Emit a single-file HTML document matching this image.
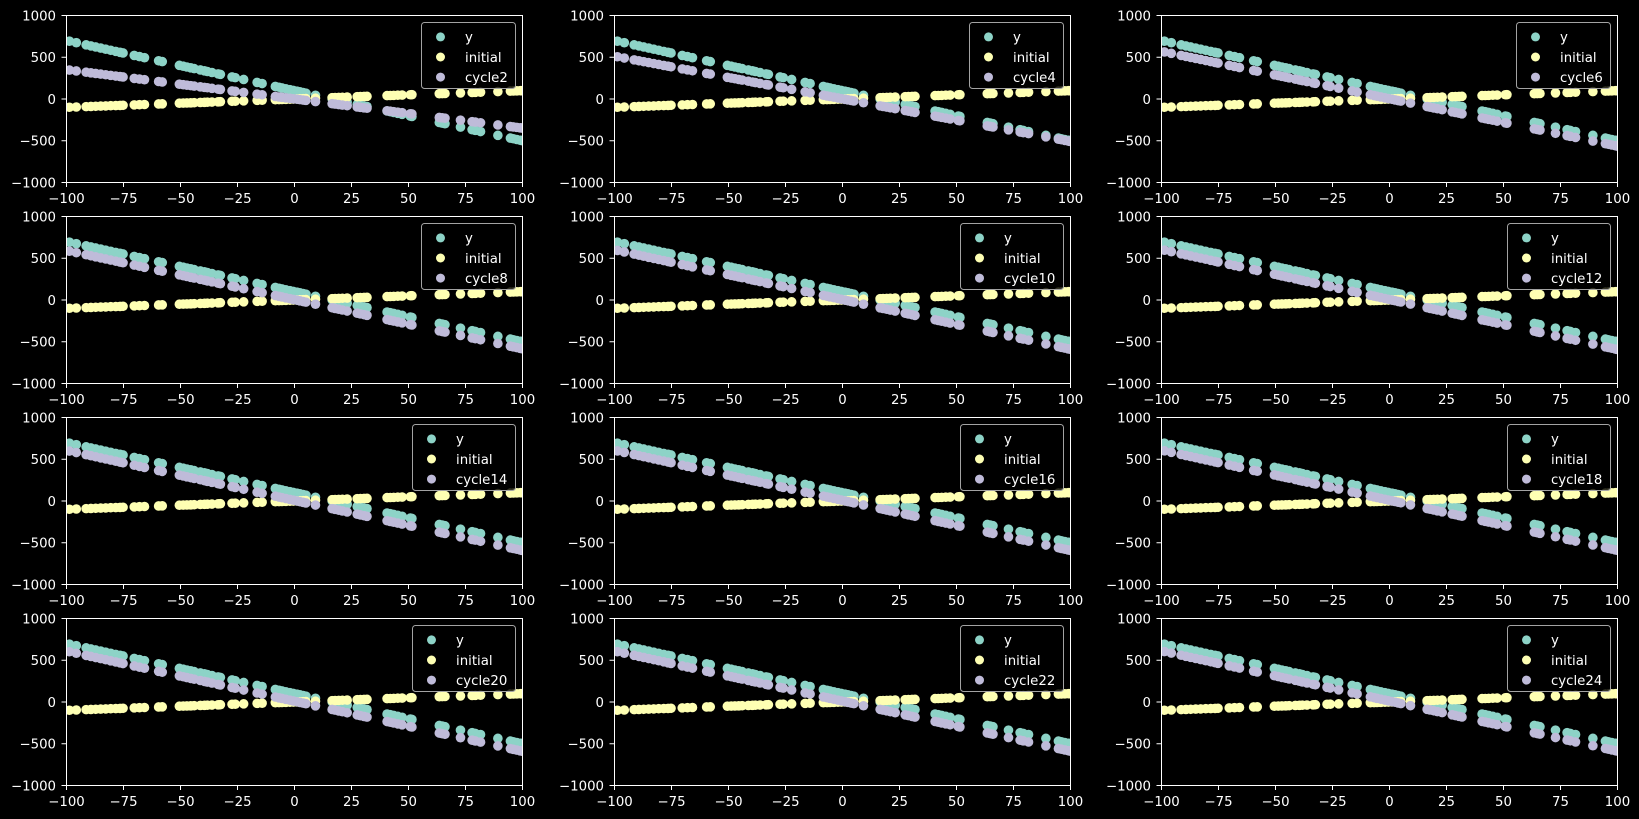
<!DOCTYPE html>
<html><head><meta charset="utf-8">
<style>
html,body{margin:0;padding:0;background:#000;}
svg{display:block;}
text{font-family:"DejaVu Sans","Liberation Sans",sans-serif;font-size:13.3px;fill:#fff;}
.yl text{text-anchor:end;}
.xl text{text-anchor:middle;}
</style></head>
<body>
<svg id="c" xmlns="http://www.w3.org/2000/svg" width="1639" height="819" viewBox="0 0 1639 819">
<rect width="1639" height="819" fill="#000"/>
<defs>
<clipPath id="clip" clipPathUnits="userSpaceOnUse"><rect x="0.5" y="0.5" width="456" height="167"/></clipPath>
<g id="frame">
<rect x="0.5" y="0.5" width="456" height="167" fill="none" stroke="#fff" stroke-width="1"/>
<path d="M0.5 167.5v4.5M57.5 167.5v4.5M114.5 167.5v4.5M171.5 167.5v4.5M228.5 167.5v4.5M285.5 167.5v4.5M342.5 167.5v4.5M399.5 167.5v4.5M456.5 167.5v4.5M-4.5 0.5h5M-4.5 42.25h5M-4.5 84h5M-4.5 125.75h5M-4.5 167.5h5" stroke="#fff" stroke-width="1" fill="none"/>
</g>
</defs>

<g transform="translate(66,15)">
<g id="d0" clip-path="url(#clip)"></g>
<use href="#frame"/>
<g class="yl"><text x="-10" y="5.3">1000</text><text x="-10" y="47.05">500</text><text x="-10" y="88.8">0</text><text x="-10" y="130.55">−500</text><text x="-10" y="172.3">−1000</text></g>
<g class="xl"><text x="0.5" y="188">−100</text><text x="57.5" y="188">−75</text><text x="114.5" y="188">−50</text><text x="171.5" y="188">−25</text><text x="228.5" y="188">0</text><text x="285.5" y="188">25</text><text x="342.5" y="188">50</text><text x="399.5" y="188">75</text><text x="456.5" y="188">100</text></g>
<rect x="355.5" y="7.5" width="94" height="66" rx="3" fill="rgba(0,0,0,0.8)" stroke="#a3a3a3"/>
<circle cx="374.5" cy="21.9" r="4.5" fill="#8dd3c7"/><circle cx="374.5" cy="42" r="4.5" fill="#feffb3"/><circle cx="374.5" cy="62.1" r="4.5" fill="#bfbbd9"/>
<text x="399" y="26.7">y</text><text x="399" y="46.8">initial</text><text x="399" y="66.9">cycle2</text>
</g>

<g transform="translate(614,15)">
<g id="d1" clip-path="url(#clip)"></g>
<use href="#frame"/>
<g class="yl"><text x="-10" y="5.3">1000</text><text x="-10" y="47.05">500</text><text x="-10" y="88.8">0</text><text x="-10" y="130.55">−500</text><text x="-10" y="172.3">−1000</text></g>
<g class="xl"><text x="0.5" y="188">−100</text><text x="57.5" y="188">−75</text><text x="114.5" y="188">−50</text><text x="171.5" y="188">−25</text><text x="228.5" y="188">0</text><text x="285.5" y="188">25</text><text x="342.5" y="188">50</text><text x="399.5" y="188">75</text><text x="456.5" y="188">100</text></g>
<rect x="355.5" y="7.5" width="94" height="66" rx="3" fill="rgba(0,0,0,0.8)" stroke="#a3a3a3"/>
<circle cx="374.5" cy="21.9" r="4.5" fill="#8dd3c7"/><circle cx="374.5" cy="42" r="4.5" fill="#feffb3"/><circle cx="374.5" cy="62.1" r="4.5" fill="#bfbbd9"/>
<text x="399" y="26.7">y</text><text x="399" y="46.8">initial</text><text x="399" y="66.9">cycle4</text>
</g>

<g transform="translate(1161,15)">
<g id="d2" clip-path="url(#clip)"></g>
<use href="#frame"/>
<g class="yl"><text x="-10" y="5.3">1000</text><text x="-10" y="47.05">500</text><text x="-10" y="88.8">0</text><text x="-10" y="130.55">−500</text><text x="-10" y="172.3">−1000</text></g>
<g class="xl"><text x="0.5" y="188">−100</text><text x="57.5" y="188">−75</text><text x="114.5" y="188">−50</text><text x="171.5" y="188">−25</text><text x="228.5" y="188">0</text><text x="285.5" y="188">25</text><text x="342.5" y="188">50</text><text x="399.5" y="188">75</text><text x="456.5" y="188">100</text></g>
<rect x="355.5" y="7.5" width="94" height="66" rx="3" fill="rgba(0,0,0,0.8)" stroke="#a3a3a3"/>
<circle cx="374.5" cy="21.9" r="4.5" fill="#8dd3c7"/><circle cx="374.5" cy="42" r="4.5" fill="#feffb3"/><circle cx="374.5" cy="62.1" r="4.5" fill="#bfbbd9"/>
<text x="399" y="26.7">y</text><text x="399" y="46.8">initial</text><text x="399" y="66.9">cycle6</text>
</g>

<g transform="translate(66,216)">
<g id="d3" clip-path="url(#clip)"></g>
<use href="#frame"/>
<g class="yl"><text x="-10" y="5.3">1000</text><text x="-10" y="47.05">500</text><text x="-10" y="88.8">0</text><text x="-10" y="130.55">−500</text><text x="-10" y="172.3">−1000</text></g>
<g class="xl"><text x="0.5" y="188">−100</text><text x="57.5" y="188">−75</text><text x="114.5" y="188">−50</text><text x="171.5" y="188">−25</text><text x="228.5" y="188">0</text><text x="285.5" y="188">25</text><text x="342.5" y="188">50</text><text x="399.5" y="188">75</text><text x="456.5" y="188">100</text></g>
<rect x="355.5" y="7.5" width="94" height="66" rx="3" fill="rgba(0,0,0,0.8)" stroke="#a3a3a3"/>
<circle cx="374.5" cy="21.9" r="4.5" fill="#8dd3c7"/><circle cx="374.5" cy="42" r="4.5" fill="#feffb3"/><circle cx="374.5" cy="62.1" r="4.5" fill="#bfbbd9"/>
<text x="399" y="26.7">y</text><text x="399" y="46.8">initial</text><text x="399" y="66.9">cycle8</text>
</g>

<g transform="translate(614,216)">
<g id="d4" clip-path="url(#clip)"></g>
<use href="#frame"/>
<g class="yl"><text x="-10" y="5.3">1000</text><text x="-10" y="47.05">500</text><text x="-10" y="88.8">0</text><text x="-10" y="130.55">−500</text><text x="-10" y="172.3">−1000</text></g>
<g class="xl"><text x="0.5" y="188">−100</text><text x="57.5" y="188">−75</text><text x="114.5" y="188">−50</text><text x="171.5" y="188">−25</text><text x="228.5" y="188">0</text><text x="285.5" y="188">25</text><text x="342.5" y="188">50</text><text x="399.5" y="188">75</text><text x="456.5" y="188">100</text></g>
<rect x="346.5" y="7.5" width="103" height="66" rx="3" fill="rgba(0,0,0,0.8)" stroke="#a3a3a3"/>
<circle cx="365.5" cy="21.9" r="4.5" fill="#8dd3c7"/><circle cx="365.5" cy="42" r="4.5" fill="#feffb3"/><circle cx="365.5" cy="62.1" r="4.5" fill="#bfbbd9"/>
<text x="390" y="26.7">y</text><text x="390" y="46.8">initial</text><text x="390" y="66.9">cycle10</text>
</g>

<g transform="translate(1161,216)">
<g id="d5" clip-path="url(#clip)"></g>
<use href="#frame"/>
<g class="yl"><text x="-10" y="5.3">1000</text><text x="-10" y="47.05">500</text><text x="-10" y="88.8">0</text><text x="-10" y="130.55">−500</text><text x="-10" y="172.3">−1000</text></g>
<g class="xl"><text x="0.5" y="188">−100</text><text x="57.5" y="188">−75</text><text x="114.5" y="188">−50</text><text x="171.5" y="188">−25</text><text x="228.5" y="188">0</text><text x="285.5" y="188">25</text><text x="342.5" y="188">50</text><text x="399.5" y="188">75</text><text x="456.5" y="188">100</text></g>
<rect x="346.5" y="7.5" width="103" height="66" rx="3" fill="rgba(0,0,0,0.8)" stroke="#a3a3a3"/>
<circle cx="365.5" cy="21.9" r="4.5" fill="#8dd3c7"/><circle cx="365.5" cy="42" r="4.5" fill="#feffb3"/><circle cx="365.5" cy="62.1" r="4.5" fill="#bfbbd9"/>
<text x="390" y="26.7">y</text><text x="390" y="46.8">initial</text><text x="390" y="66.9">cycle12</text>
</g>

<g transform="translate(66,417)">
<g id="d6" clip-path="url(#clip)"></g>
<use href="#frame"/>
<g class="yl"><text x="-10" y="5.3">1000</text><text x="-10" y="47.05">500</text><text x="-10" y="88.8">0</text><text x="-10" y="130.55">−500</text><text x="-10" y="172.3">−1000</text></g>
<g class="xl"><text x="0.5" y="188">−100</text><text x="57.5" y="188">−75</text><text x="114.5" y="188">−50</text><text x="171.5" y="188">−25</text><text x="228.5" y="188">0</text><text x="285.5" y="188">25</text><text x="342.5" y="188">50</text><text x="399.5" y="188">75</text><text x="456.5" y="188">100</text></g>
<rect x="346.5" y="7.5" width="103" height="66" rx="3" fill="rgba(0,0,0,0.8)" stroke="#a3a3a3"/>
<circle cx="365.5" cy="21.9" r="4.5" fill="#8dd3c7"/><circle cx="365.5" cy="42" r="4.5" fill="#feffb3"/><circle cx="365.5" cy="62.1" r="4.5" fill="#bfbbd9"/>
<text x="390" y="26.7">y</text><text x="390" y="46.8">initial</text><text x="390" y="66.9">cycle14</text>
</g>

<g transform="translate(614,417)">
<g id="d7" clip-path="url(#clip)"></g>
<use href="#frame"/>
<g class="yl"><text x="-10" y="5.3">1000</text><text x="-10" y="47.05">500</text><text x="-10" y="88.8">0</text><text x="-10" y="130.55">−500</text><text x="-10" y="172.3">−1000</text></g>
<g class="xl"><text x="0.5" y="188">−100</text><text x="57.5" y="188">−75</text><text x="114.5" y="188">−50</text><text x="171.5" y="188">−25</text><text x="228.5" y="188">0</text><text x="285.5" y="188">25</text><text x="342.5" y="188">50</text><text x="399.5" y="188">75</text><text x="456.5" y="188">100</text></g>
<rect x="346.5" y="7.5" width="103" height="66" rx="3" fill="rgba(0,0,0,0.8)" stroke="#a3a3a3"/>
<circle cx="365.5" cy="21.9" r="4.5" fill="#8dd3c7"/><circle cx="365.5" cy="42" r="4.5" fill="#feffb3"/><circle cx="365.5" cy="62.1" r="4.5" fill="#bfbbd9"/>
<text x="390" y="26.7">y</text><text x="390" y="46.8">initial</text><text x="390" y="66.9">cycle16</text>
</g>

<g transform="translate(1161,417)">
<g id="d8" clip-path="url(#clip)"></g>
<use href="#frame"/>
<g class="yl"><text x="-10" y="5.3">1000</text><text x="-10" y="47.05">500</text><text x="-10" y="88.8">0</text><text x="-10" y="130.55">−500</text><text x="-10" y="172.3">−1000</text></g>
<g class="xl"><text x="0.5" y="188">−100</text><text x="57.5" y="188">−75</text><text x="114.5" y="188">−50</text><text x="171.5" y="188">−25</text><text x="228.5" y="188">0</text><text x="285.5" y="188">25</text><text x="342.5" y="188">50</text><text x="399.5" y="188">75</text><text x="456.5" y="188">100</text></g>
<rect x="346.5" y="7.5" width="103" height="66" rx="3" fill="rgba(0,0,0,0.8)" stroke="#a3a3a3"/>
<circle cx="365.5" cy="21.9" r="4.5" fill="#8dd3c7"/><circle cx="365.5" cy="42" r="4.5" fill="#feffb3"/><circle cx="365.5" cy="62.1" r="4.5" fill="#bfbbd9"/>
<text x="390" y="26.7">y</text><text x="390" y="46.8">initial</text><text x="390" y="66.9">cycle18</text>
</g>

<g transform="translate(66,618)">
<g id="d9" clip-path="url(#clip)"></g>
<use href="#frame"/>
<g class="yl"><text x="-10" y="5.3">1000</text><text x="-10" y="47.05">500</text><text x="-10" y="88.8">0</text><text x="-10" y="130.55">−500</text><text x="-10" y="172.3">−1000</text></g>
<g class="xl"><text x="0.5" y="188">−100</text><text x="57.5" y="188">−75</text><text x="114.5" y="188">−50</text><text x="171.5" y="188">−25</text><text x="228.5" y="188">0</text><text x="285.5" y="188">25</text><text x="342.5" y="188">50</text><text x="399.5" y="188">75</text><text x="456.5" y="188">100</text></g>
<rect x="346.5" y="7.5" width="103" height="66" rx="3" fill="rgba(0,0,0,0.8)" stroke="#a3a3a3"/>
<circle cx="365.5" cy="21.9" r="4.5" fill="#8dd3c7"/><circle cx="365.5" cy="42" r="4.5" fill="#feffb3"/><circle cx="365.5" cy="62.1" r="4.5" fill="#bfbbd9"/>
<text x="390" y="26.7">y</text><text x="390" y="46.8">initial</text><text x="390" y="66.9">cycle20</text>
</g>

<g transform="translate(614,618)">
<g id="d10" clip-path="url(#clip)"></g>
<use href="#frame"/>
<g class="yl"><text x="-10" y="5.3">1000</text><text x="-10" y="47.05">500</text><text x="-10" y="88.8">0</text><text x="-10" y="130.55">−500</text><text x="-10" y="172.3">−1000</text></g>
<g class="xl"><text x="0.5" y="188">−100</text><text x="57.5" y="188">−75</text><text x="114.5" y="188">−50</text><text x="171.5" y="188">−25</text><text x="228.5" y="188">0</text><text x="285.5" y="188">25</text><text x="342.5" y="188">50</text><text x="399.5" y="188">75</text><text x="456.5" y="188">100</text></g>
<rect x="346.5" y="7.5" width="103" height="66" rx="3" fill="rgba(0,0,0,0.8)" stroke="#a3a3a3"/>
<circle cx="365.5" cy="21.9" r="4.5" fill="#8dd3c7"/><circle cx="365.5" cy="42" r="4.5" fill="#feffb3"/><circle cx="365.5" cy="62.1" r="4.5" fill="#bfbbd9"/>
<text x="390" y="26.7">y</text><text x="390" y="46.8">initial</text><text x="390" y="66.9">cycle22</text>
</g>

<g transform="translate(1161,618)">
<g id="d11" clip-path="url(#clip)"></g>
<use href="#frame"/>
<g class="yl"><text x="-10" y="5.3">1000</text><text x="-10" y="47.05">500</text><text x="-10" y="88.8">0</text><text x="-10" y="130.55">−500</text><text x="-10" y="172.3">−1000</text></g>
<g class="xl"><text x="0.5" y="188">−100</text><text x="57.5" y="188">−75</text><text x="114.5" y="188">−50</text><text x="171.5" y="188">−25</text><text x="228.5" y="188">0</text><text x="285.5" y="188">25</text><text x="342.5" y="188">50</text><text x="399.5" y="188">75</text><text x="456.5" y="188">100</text></g>
<rect x="346.5" y="7.5" width="103" height="66" rx="3" fill="rgba(0,0,0,0.8)" stroke="#a3a3a3"/>
<circle cx="365.5" cy="21.9" r="4.5" fill="#8dd3c7"/><circle cx="365.5" cy="42" r="4.5" fill="#feffb3"/><circle cx="365.5" cy="62.1" r="4.5" fill="#bfbbd9"/>
<text x="390" y="26.7">y</text><text x="390" y="46.8">initial</text><text x="390" y="66.9">cycle24</text>
</g>
</svg>
<script>
(function(){
var xs=[-98.7,-95.7,-91.4,-89.3,-87.2,-85.0,-82.8,-80.6,-78.4,-76.5,-75.2,-70.3,-68.0,-65.8,-59.6,-58.0,-50.5,-48.8,-47.2,-45.5,-44.0,-41.3,-39.5,-38.2,-36.2,-33.5,-32.5,-27.4,-26.0,-22.3,-16.4,-14.2,-8.4,-6.8,-5.5,-3.8,-2.0,-0.5,1.1,2.4,3.8,5.0,9.2,16.5,17.8,19.4,21.0,23.1,27.5,28.9,30.5,31.8,40.6,42.0,43.5,45.3,47.2,50.8,51.5,63.5,64.8,66.0,72.8,77.9,79.3,81.6,89.2,94.7,96.0,97.5,99.0,99.7];
var NS='http://www.w3.org/2000/svg';
function px(x){return 0.5+(x+100)/200*456;}
function py(y){return 0.5+(1000-y)/2000*167;}
for(var i=0;i<12;i++){
  var g=document.getElementById('d'+i);
  var k=2*(i+1);
  var s=-6+7*Math.pow(0.598,k);
  var b=100*(1-Math.pow(0.995,k));
  var series=[
    {c:'#8dd3c7',f:function(x){return -6*x+100;}},
    {c:'#feffb3',f:function(x){return x;}},
    {c:'#bfbbd9',f:(function(s,b){return function(x){return s*x+b;};})(s,b)}
  ];
  for(var j=0;j<3;j++){
    for(var n=0;n<xs.length;n++){
      var x=xs[n];
      var c=document.createElementNS(NS,'circle');
      c.setAttribute('cx',px(x).toFixed(2));
      c.setAttribute('cy',py(series[j].f(x)).toFixed(2));
      c.setAttribute('r','4.8');
      c.setAttribute('fill',series[j].c);
      g.appendChild(c);
    }
  }
}
})();
</script>
</body></html>
